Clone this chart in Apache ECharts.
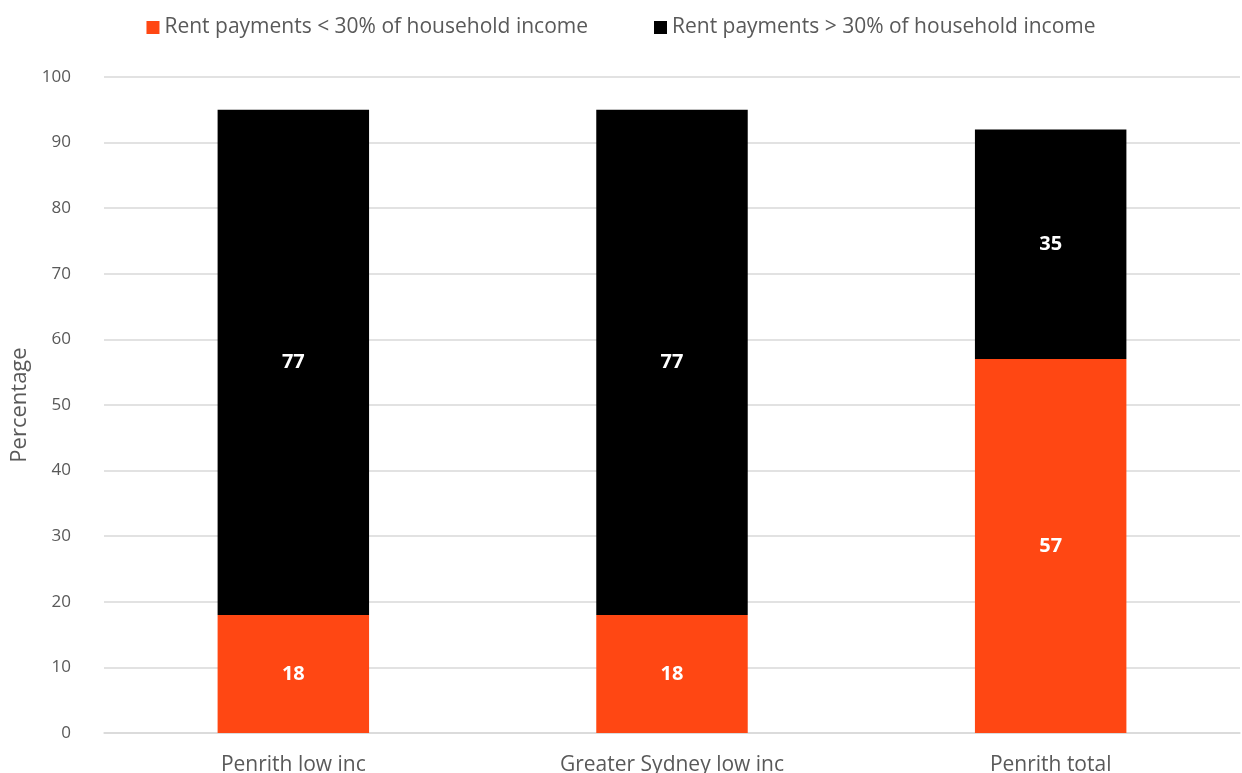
<!DOCTYPE html>
<html>
<head>
<meta charset="utf-8">
<script src="https://cdn.jsdelivr.net/npm/echarts@6/dist/echarts.min.js"></script>
<style>
  html, body { margin: 0; padding: 0; background: #fff; }
  #chart { width: 1242px; height: 773px; }
</style>
</head>
<body>
<div id="chart"></div>
<script>
// Rental stress by area (percentage of renting households)
const categories = ['Penrith low inc', 'Greater Sydney low inc', 'Penrith total'];
const below30 = [18, 18, 57];
const above30 = [77, 77, 35];
const seriesNames = ['Rent payments < 30% of household income', 'Rent payments > 30% of household income'];

const fontFamily = '"Open Sans", "Liberation Sans", sans-serif';
const textColor = '#595959';

const chart = echarts.init(document.getElementById('chart'), null, { renderer: 'canvas' });

const segmentLabel = {
  show: true,
  position: 'inside',
  color: '#fff',
  fontWeight: 'bold',
  fontSize: 20,
  fontFamily: fontFamily
};

chart.setOption({
  animation: false,
  textStyle: { fontFamily: fontFamily },
  legend: {
    top: 12,
    left: 'center',
    itemWidth: 13,
    itemHeight: 13,
    itemGap: 66,
    icon: 'rect',
    textStyle: { color: textColor, fontSize: 21, fontFamily: fontFamily },
    data: seriesNames
  },
  grid: { left: 104, right: 2, top: 77, bottom: 40, containLabel: false, outerBoundsMode: 'none' },
  xAxis: {
    type: 'category',
    data: categories,
    axisLine: { show: true, lineStyle: { color: '#d9d9d9', width: 1.5 } },
    axisTick: { show: false },
    axisLabel: { color: textColor, fontSize: 21, margin: 22, fontFamily: fontFamily }
  },
  yAxis: {
    type: 'value',
    min: 0,
    max: 100,
    interval: 10,
    name: 'Percentage',
    nameLocation: 'middle',
    nameGap: 72,
    nameTextStyle: { color: textColor, fontSize: 22, fontFamily: fontFamily },
    axisLine: { show: false },
    axisTick: { show: false },
    axisLabel: { color: textColor, fontSize: 17, margin: 33, fontFamily: fontFamily },
    splitLine: { lineStyle: { color: '#d9d9d9', width: 1.5 } }
  },
  series: [
    {
      name: seriesNames[0],
      type: 'bar',
      stack: 'rent',
      barWidth: '40%',
      data: below30,
      itemStyle: { color: '#FF4713' },
      label: segmentLabel
    },
    {
      name: seriesNames[1],
      type: 'bar',
      stack: 'rent',
      barWidth: '40%',
      data: above30,
      itemStyle: { color: '#000000' },
      label: segmentLabel
    }
  ]
});
</script>
</body>
</html>
